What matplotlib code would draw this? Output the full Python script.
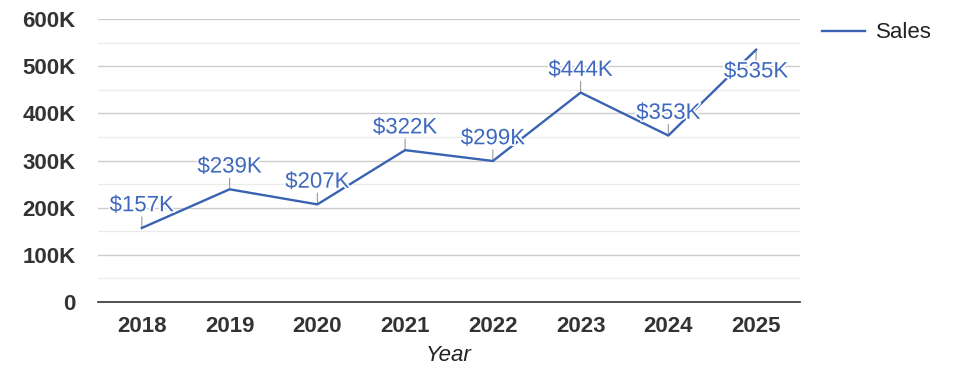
import matplotlib
matplotlib.use('Agg')
import matplotlib.pyplot as plt
import matplotlib.patheffects as pe
from matplotlib.ticker import MultipleLocator, FuncFormatter

plt.rcParams['font.family'] = ['Liberation Sans', 'DejaVu Sans']

# data
years = ['2018', '2019', '2020', '2021', '2022', '2023', '2024', '2025']
sales = [157, 239, 207, 322, 299, 444, 353, 535]  # in thousands
series_name = 'Sales'

line_color = '#3a62b2'
label_color = '#3f69bf'

fig = plt.figure(figsize=(9.75, 3.78), dpi=100)
ax = fig.add_axes([0.1005, 0.201, 0.72, 0.7487])

x = list(range(len(years)))
ax.plot(x, sales, color=line_color, lw=1.7, label=series_name, zorder=3)

ax.set_xlim(-0.5, len(years) - 0.5)
ax.set_ylim(0, 600)
ax.yaxis.set_major_locator(MultipleLocator(100))
ax.yaxis.set_minor_locator(MultipleLocator(50))
ax.yaxis.set_major_formatter(FuncFormatter(lambda v, p: '0' if v == 0 else f'{int(v)}K'))
ax.grid(True, which='major', axis='y', color='#cccccc', lw=1)
ax.grid(True, which='minor', axis='y', color='#ebebeb', lw=1)
ax.set_axisbelow(True)

for s in ['top', 'right', 'left']:
    ax.spines[s].set_visible(False)
ax.spines['bottom'].set_color('#333333')
ax.spines['bottom'].set_linewidth(1.2)

ax.set_xticks(x)
ax.set_xticklabels(years)
ax.tick_params(axis='both', which='both', length=0)
ax.tick_params(axis='x', pad=10)
ax.tick_params(axis='y', pad=16)
for lab in ax.get_xticklabels() + ax.get_yticklabels():
    lab.set_fontweight('bold')
    lab.set_fontsize(16)
    lab.set_color('#333333')

ax.set_xlabel('Year', fontsize=16, style='italic', color='#222222', labelpad=6)

# data labels with small stems
for i, v in enumerate(sales):
    below = v > 500
    sign = -1 if below else 1
    ax.annotate('', xy=(i, v), xytext=(0, sign * 8), textcoords='offset points',
                arrowprops=dict(arrowstyle='-', color='#999999', lw=0.8,
                                shrinkA=0, shrinkB=0), zorder=2)
    ax.annotate(f'${v}K', xy=(i, v), xytext=(0, sign * 16), textcoords='offset points',
                ha='center', va='center', fontsize=16, color=label_color, zorder=4,
                path_effects=[pe.withStroke(linewidth=2.5, foreground='white')])

ax.legend(loc='upper left', bbox_to_anchor=(0.994, 1.082), frameon=False,
          fontsize=16, handlelength=1.9, handletextpad=0.5, borderaxespad=0.8,
          labelcolor='#222222')

fig.savefig('out.png', dpi=100)
